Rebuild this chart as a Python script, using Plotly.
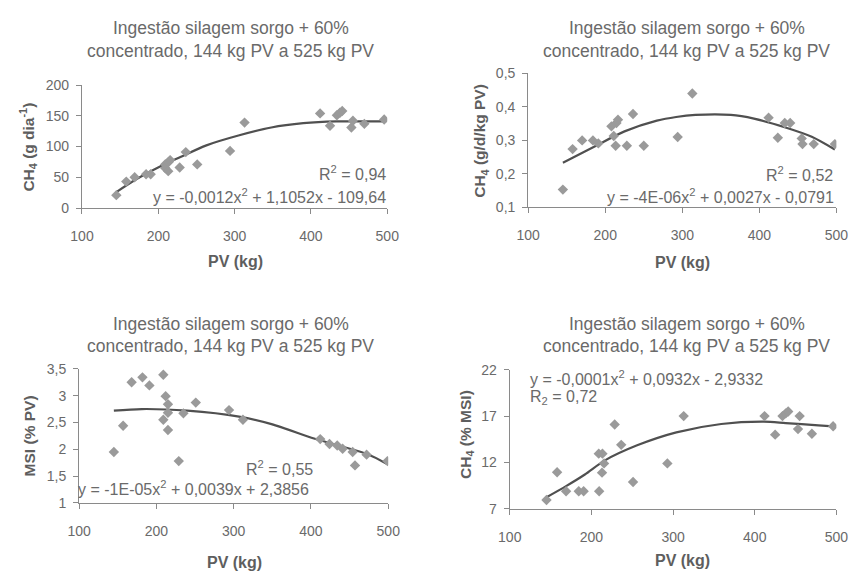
import plotly.graph_objects as go

# ---------------- data ----------------
title_line1 = "Ingestão silagem sorgo + 60%"
title_line2 = "concentrado, 144 kg PV a 525 kg PV"
x_title = "PV (kg)"

# Panel 1: CH4 (g/dia)
pv_1 = [145, 158, 169, 184, 190, 209, 209, 213, 213.5, 215.5, 228, 236, 251, 294, 313,
        412, 425, 434, 438, 441, 453, 455, 470, 496]
ch4_gd = [21, 43, 50, 55, 55, 71, 65, 60, 75, 78, 66, 91, 71, 93, 139,
          154, 134, 151, 155, 158, 131, 142, 137, 144]
trend1_x = [145, 170, 203, 229, 263, 305, 348, 390, 433, 470, 498]
trend1_y = [26, 46, 68, 83, 102, 118, 131, 138, 141, 141, 141]

# Panel 2: CH4 (g/d/kg PV)
pv_2 = [145, 157.6, 170, 184, 191, 208, 211, 213.5, 214.5, 216.5, 228, 236, 250, 294, 313,
        412, 424, 433, 440, 455, 456, 470.6, 498]
ch4_kgpv = [0.153, 0.274, 0.300, 0.300, 0.291, 0.342, 0.313, 0.284, 0.352, 0.362, 0.284,
            0.379, 0.284, 0.310, 0.440, 0.368, 0.308, 0.352, 0.352, 0.306, 0.289, 0.289, 0.289]
trend2_x = [145, 183, 225, 267, 292, 317, 363, 393, 435, 468, 498]
trend2_y = [0.233, 0.278, 0.327, 0.359, 0.370, 0.376, 0.376, 0.365, 0.338, 0.311, 0.273]

# Panel 3: MSI (% PV)
pv_3 = [145, 157, 168, 182, 191, 209, 212, 215, 209, 215, 215, 229, 235, 251, 294, 312,
        412, 424, 434, 441, 454, 457, 472, 499]
msi_pv = [1.95, 2.44, 3.25, 3.34, 3.19, 3.39, 2.99, 2.84, 2.55, 2.68, 2.36, 1.78, 2.67, 2.87,
          2.73, 2.55, 2.19, 2.10, 2.07, 2.01, 1.95, 1.70, 1.90, 1.78]
trend3_x = [145, 181, 240, 307, 349, 404, 433, 475, 498]
trend3_y = [2.72, 2.75, 2.72, 2.61, 2.47, 2.20, 2.08, 1.90, 1.73]

# Panel 4: CH4 (% MSI)
pv_4 = [145, 158, 169, 184.5, 190.5, 209, 213.5, 215.5, 213, 209.5, 228.5, 236.5, 251, 293,
        313, 412, 425, 434, 438, 441, 455, 453, 470, 496]
ch4_msi = [7.95, 10.95, 8.9, 8.9, 8.9, 12.95, 12.95, 11.9, 10.9, 8.9, 16.1, 13.9, 9.9, 11.9,
           17, 17, 15, 17, 17.3, 17.5, 17, 15.6, 15.1, 15.9]
trend4_x = [144, 169, 192, 216, 256, 304, 359, 411, 438, 478, 496]
trend4_y = [8.2, 9.45, 10.7, 12.2, 13.85, 15.25, 16.15, 16.4, 16.25, 16.0, 15.9]

x_ticks = [100, 200, 300, 400, 500]
y1_ticks = [0, 50, 100, 150, 200]
y1_text = ["0", "50", "100", "150", "200"]
y2_ticks = [0.1, 0.2, 0.3, 0.4, 0.5]
y2_text = ["0,1", "0,2", "0,3", "0,4", "0,5"]
y3_ticks = [1, 1.5, 2, 2.5, 3, 3.5]
y3_text = ["1", "1,5", "2", "2,5", "3", "3,5"]
y4_ticks = [7, 12, 17, 22]
y4_text = ["7", "12", "17", "22"]

y_titles = ["CH<sub>4</sub> (g dia<sup>-1</sup>)", "CH<sub>4</sub> (g/d/kg PV)",
            "MSI (% PV)", "CH<sub>4</sub> (% MSI)"]
eq_texts = ["y = -0,0012x<sup>2</sup> + 1,1052x - 109,64",
            "y = -4E-06x<sup>2</sup> + 0,0027x - 0,0791",
            "y = -1E-05x<sup>2</sup> + 0,0039x + 2,3856",
            "y = -0,0001x<sup>2</sup> + 0,0932x - 2,9332"]
r2_texts = ["R<sup>2</sup> = 0,94", "R<sup>2</sup> = 0,52", "R<sup>2</sup> = 0,55",
            "R<sub>2</sub> = 0,72"]

# ---------------- layout helpers ----------------
W, H = 862, 581
FONT = "Liberation Sans, Arial, sans-serif"
TXT = "#6a6a6a"
AX = "#8a8a8a"
MARK = "#9a9a9a"
LINE = "#505050"


def px(x):
    return x / W


def py(y):
    return 1 - y / H


panels = [
    dict(x=pv_1, y=ch4_gd, tx=trend1_x, ty=trend1_y, yr=[0, 200], yt=y1_ticks, ytt=y1_text,
         dom_x=(72, 386), dom_y=(79.3, 205.7)),
    dict(x=pv_2, y=ch4_kgpv, tx=trend2_x, ty=trend2_y, yr=[0.1, 0.5], yt=y2_ticks, ytt=y2_text,
         dom_x=(531, 848), dom_y=(67.3, 205)),
    dict(x=pv_3, y=msi_pv, tx=trend3_x, ty=trend3_y, yr=[1, 3.5], yt=y3_ticks, ytt=y3_text,
         dom_x=(69, 387), dom_y=(371, 509)),
    dict(x=pv_4, y=ch4_msi, tx=trend4_x, ty=trend4_y, yr=[7, 22], yt=y4_ticks, ytt=y4_text,
         dom_x=(512, 848), dom_y=(372, 515)),
]

fig = go.Figure()
layout = dict(
    width=W, height=H, margin=dict(l=0, r=0, t=0, b=0),
    paper_bgcolor="white", plot_bgcolor="white", showlegend=False,
    font=dict(family=FONT, color=TXT, size=14),
    annotations=[],
)

for i, p in enumerate(panels, start=1):
    xa = "x" if i == 1 else f"x{i}"
    ya = "y" if i == 1 else f"y{i}"
    fig.add_trace(go.Scatter(x=p["tx"], y=p["ty"], mode="lines",
                             line=dict(color=LINE, width=2.2, shape="spline", smoothing=0.8),
                             xaxis=xa, yaxis=ya, hoverinfo="skip"))
    fig.add_trace(go.Scatter(x=p["x"], y=p["y"], mode="markers",
                             marker=dict(symbol="diamond", size=8, color=MARK, line=dict(width=0)),
                             xaxis=xa, yaxis=ya))
    x0, x1 = p["dom_x"]
    yt0, yb0 = p["dom_y"]
    key_x = "xaxis" if i == 1 else f"xaxis{i}"
    key_y = "yaxis" if i == 1 else f"yaxis{i}"
    layout[key_x] = dict(domain=[px(x0), px(x1)], anchor=ya, range=[100, 500],
                         tickvals=x_ticks, ticktext=[str(v) for v in x_ticks],
                         showline=True, linecolor=AX, linewidth=1.2, ticks="outside",
                         ticklen=5, tickcolor=AX, showgrid=False, zeroline=False,
                         ticklabelstandoff=10, tickfont=dict(size=14, color=TXT, family=FONT))
    layout[key_y] = dict(domain=[py(yb0), py(yt0)], anchor=xa, range=p["yr"],
                         tickvals=p["yt"], ticktext=p["ytt"],
                         showline=True, linecolor=AX, linewidth=1.2, ticks="outside",
                         ticklen=5, tickcolor=AX, showgrid=False, zeroline=False,
                         ticklabelstandoff=4, tickfont=dict(size=14, color=TXT, family=FONT))

ann = layout["annotations"]


def add_text(text, x, y, size, xanchor="center", bold=False, angle=0, color=TXT):
    ann.append(dict(text=f"<b>{text}</b>" if bold else text, x=px(x), y=py(y),
                    xref="paper", yref="paper", xanchor=xanchor, yanchor="middle",
                    showarrow=False, textangle=angle,
                    font=dict(family=FONT, size=size, color=color)))


# titles
for cx, ty in [(225, 21), (694, 21), (225, 325), (694, 325)]:
    add_text(title_line1, cx, ty, 17.5)
    add_text(title_line2, cx, ty + 23, 17.5)

# x titles
for cx, ty in [(230, 261), (690, 262), (229, 570), (690, 568)]:
    add_text(x_title, cx, ty, 16, bold=True, color="#5e5e5e")

# y titles
for (cx, cy), t in zip([(17, 143), (482, 137), (18, 440), (468, 438)], y_titles):
    add_text(t, cx, cy, 15.5, bold=True, angle=-90, color="#5e5e5e")

# equations & R2
add_text(r2_texts[0], 387, 170, 16, xanchor="right")
add_text(eq_texts[0], 387, 193, 16, xanchor="right")
add_text(r2_texts[1], 847, 171, 16, xanchor="right")
add_text(eq_texts[1], 848, 193, 16, xanchor="right")
add_text(r2_texts[2], 312, 473, 16, xanchor="right")
add_text(eq_texts[2], 308, 494, 16, xanchor="right")
add_text(eq_texts[3], 531, 380, 16, xanchor="left")
add_text(r2_texts[3], 531, 401, 16, xanchor="left")

fig.update_layout(**layout)
# remove the default page margin so the figure sits at the window's top-left corner
fig.write_html("out.html", config={"displayModeBar": False},
               post_script="document.body.style.margin='0';document.body.style.overflow='hidden';")
